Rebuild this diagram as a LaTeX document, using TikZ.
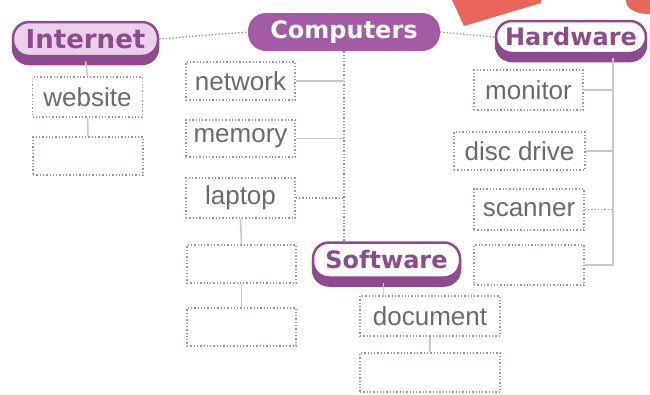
\documentclass[tikz,border=0pt]{standalone}
\usepackage{fontspec}
\setmainfont{Liberation Sans}
\newfontfamily\headfont{DejaVu Sans}
\usetikzlibrary{shadows}
\definecolor{pdark}{HTML}{8E4A8E}
\definecolor{pfill}{HTML}{A35BA3}
\definecolor{ppink}{HTML}{EBD0EB}
\definecolor{ptext}{HTML}{8C4C8C}
\definecolor{boxline}{HTML}{A090A0}
\definecolor{conline}{HTML}{9A8A9A}
\definecolor{greyline}{HTML}{C8C8C8}
\definecolor{boxtext}{HTML}{6A6A6A}
\definecolor{redpaper}{HTML}{E8675A}
\tikzset{
  pill/.style={rounded corners=16pt, line width=2.5pt, draw=pdark, inner sep=0pt,
    font=\headfont\bfseries\fontsize{24}{24}\selectfont, text=ptext,
    double copy shadow={shadow xshift=0pt, shadow yshift=-4pt, opacity=1, fill=pdark, draw=pdark}},
  pillfilled/.style={rounded corners=18pt, fill=pfill, draw=none, inner sep=0pt,
    font=\headfont\bfseries\fontsize{24}{24}\selectfont, text=white},
  ibox/.style={draw=boxline, dotted, line width=1.3pt, inner sep=0pt,
    font=\fontsize{26}{26}\selectfont, text=boxtext},
  dotcon/.style={draw=conline, dotted, line width=1.3pt},
  greycon/.style={draw=greyline, line width=1.6pt}
}
\begin{document}
\begin{tikzpicture}[x=1pt,y=-1pt]
\useasboundingbox (0,0) rectangle (650,394);
\fill[white] (0,0) rectangle (650,394);
% red paper decoration
\fill[redpaper] (452,0) -- (541,0) -- (541,3) -- (464,26) -- cycle;
\fill[redpaper] (650,0) -- (626,0) .. controls (626,8) and (634,14) .. (650,14) -- cycle;

% headings
\node[pill, fill=ppink, minimum width=145pt, minimum height=34pt,
  font=\headfont\bfseries\fontsize{26}{26}\selectfont] (internet) at (85.5,39) {Internet};
\node[pillfilled, minimum width=192pt, minimum height=38pt] (computers) at (344,32) {Computers};
\node[pill, fill=white, minimum width=150pt, minimum height=32pt] (hardware) at (571,37) {Hardware};
\node[pill, fill=white, minimum width=147pt, minimum height=35pt] (software) at (386.5,260) {Software};

% Internet branch
\node[ibox, minimum width=110pt, minimum height=40pt] (website) at (87.5,97) {website};
\node[ibox, minimum width=110pt, minimum height=38pt] (iempty) at (88,156) {};

% Computers branch
\node[ibox, minimum width=109pt, minimum height=38pt] (network) at (240.5,81) {network};
\node[ibox, minimum width=109pt, minimum height=37pt] (memory) at (240.5,138.5) {memory};
\node[ibox, minimum width=109pt, minimum height=40pt] (laptop) at (240.5,198) {laptop};
\node[ibox, minimum width=109pt, minimum height=38pt] (lemptya) at (241.5,264) {};
\node[ibox, minimum width=109pt, minimum height=38pt] (lemptyb) at (241.5,327) {};

% Software branch
\node[ibox, minimum width=140pt, minimum height=40pt] (document) at (430,316) {document};
\node[ibox, minimum width=140pt, minimum height=39pt] (dempty) at (430,372.5) {};

% Hardware branch
\node[ibox, minimum width=109pt, minimum height=40pt] (monitor) at (528.5,90) {monitor};
\node[ibox, minimum width=131pt, minimum height=38pt] (discdrive) at (519.5,151) {disc drive};
\node[ibox, minimum width=110pt, minimum height=41pt] (scanner) at (529,209.5) {scanner};
\node[ibox, minimum width=110pt, minimum height=40pt] (hempty) at (529,265) {};

% connectors between headings
\draw[dotcon] (internet.east) -- (computers.west);
\draw[dotcon] (computers.east) -- (hardware.west);
\draw[dotcon] (computers.south) -- (computers.south |- software.north);
\coordinate (cspine) at (computers.south);
\draw[greycon] (network.east) -- (network.east -| cspine);
\draw[greycon] (memory.east) -- (memory.east -| cspine);
\draw[dotcon] (laptop.east) -- (laptop.east -| cspine);

% internet branch
\draw[greycon] (internet.south) ++(0,4) -- (website.north);
\draw[greycon] (website.south) -- (iempty.north);

% laptop branch
\draw[greycon] (laptop.south) -- (lemptya.north);
\draw[greycon] (lemptya.south) -- (lemptyb.north);

% software branch
\draw[greycon] (software.south) ++(-3,4) -- ++(0,14);
\draw[greycon] (document.south) -- (dempty.north);

% hardware spine
\coordinate (htop) at (613,58);
\coordinate (hbot) at (613,266);
\draw[greycon] (htop) -- (hbot);
\draw[greycon] (monitor.east) -- (monitor.east -| htop);
\draw[greycon] (discdrive.east) -- (discdrive.east -| htop);
\draw[dotcon] (scanner.east) -- (scanner.east -| htop);
\draw[greycon] (hempty.east) -- (hempty.east -| htop);
\end{tikzpicture}
\end{document}
